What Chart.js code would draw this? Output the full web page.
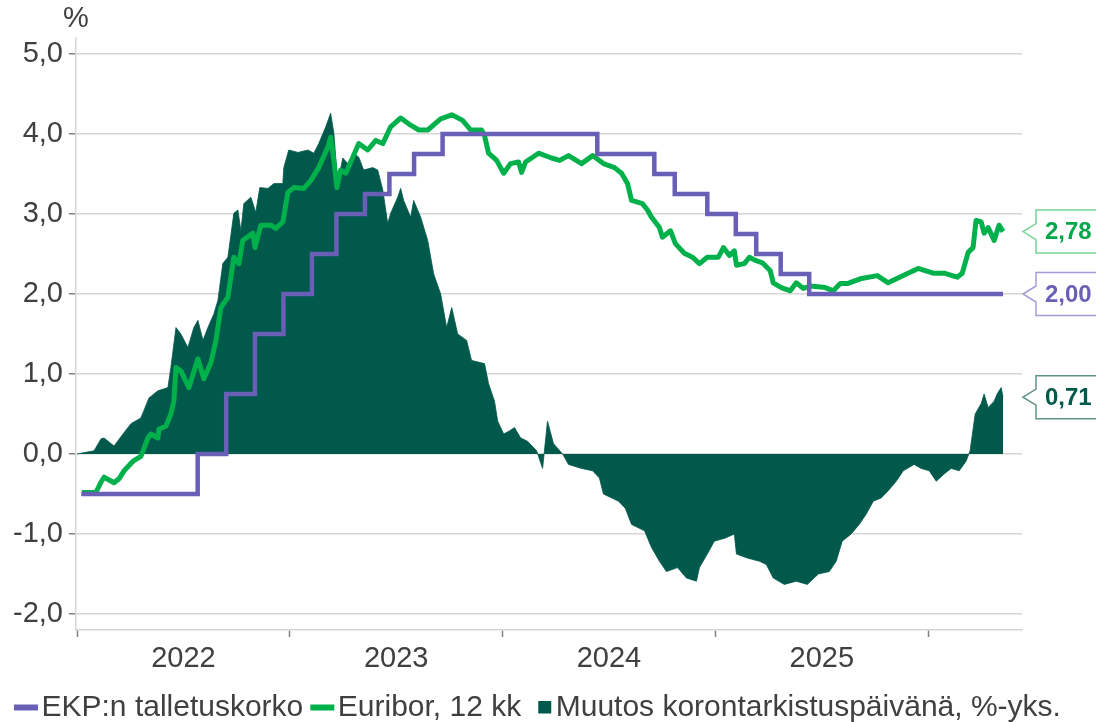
<!DOCTYPE html>
<html><head><meta charset="utf-8">
<script src="https://cdn.jsdelivr.net/npm/chart.js@4.4.1/dist/chart.umd.min.js"></script>
<style>html,body{margin:0;padding:0;background:#fff;}canvas{display:block;}</style>
</head><body>
<canvas id="c" width="1096" height="722"></canvas>
<script>
// ---- data (x = decimal year) ----
const seriesNames = ['EKP:n talletuskorko', 'Euribor, 12 kk', 'Muutos korontarkistuspäivänä, %-yks.'];
const yearLabels = ['2022', '2023', '2024', '2025'];
const yTicks = [-2, -1, 0, 1, 2, 3, 4, 5];
const unitLabel = '%';

const ecbDates = [2022.02, 2022.567, 2022.701, 2022.836, 2022.970, 2023.104, 2023.219, 2023.353, 2023.468, 2023.584, 2023.718, 2024.445, 2024.713, 2024.809, 2024.962, 2025.096, 2025.192, 2025.307, 2025.441, 2026.352];
const ecbValues = [-0.5, 0, 0.75, 1.5, 2.0, 2.5, 3.0, 3.25, 3.5, 3.75, 4.0, 3.75, 3.5, 3.25, 3.0, 2.75, 2.5, 2.25, 2.0, 2.0];

const euriborDates = [2022.023, 2022.089, 2022.113, 2022.127, 2022.174, 2022.197, 2022.221, 2022.263, 2022.300, 2022.333, 2022.347, 2022.380, 2022.385, 2022.418, 2022.441, 2022.455, 2022.465, 2022.488, 2022.526, 2022.568, 2022.596, 2022.629, 2022.653, 2022.676, 2022.709, 2022.737, 2022.761, 2022.779, 2022.826, 2022.836, 2022.864, 2022.911, 2022.934, 2022.967, 2022.991, 2023.019, 2023.066, 2023.099, 2023.136, 2023.178, 2023.192, 2023.207, 2023.221, 2023.239, 2023.263, 2023.296, 2023.324, 2023.366, 2023.404, 2023.437, 2023.474, 2023.521, 2023.568, 2023.606, 2023.648, 2023.709, 2023.761, 2023.812, 2023.850, 2023.901, 2023.915, 2023.934, 2023.972, 2024.005, 2024.038, 2024.075, 2024.089, 2024.108, 2024.169, 2024.230, 2024.268, 2024.310, 2024.371, 2024.423, 2024.474, 2024.526, 2024.559, 2024.587, 2024.606, 2024.657, 2024.681, 2024.700, 2024.737, 2024.751, 2024.789, 2024.812, 2024.854, 2024.892, 2024.925, 2024.962, 2025.014, 2025.038, 2025.066, 2025.089, 2025.099, 2025.136, 2025.160, 2025.188, 2025.221, 2025.258, 2025.272, 2025.310, 2025.352, 2025.380, 2025.413, 2025.446, 2025.516, 2025.554, 2025.587, 2025.620, 2025.681, 2025.761, 2025.812, 2025.883, 2025.953, 2026.023, 2026.075, 2026.136, 2026.160, 2026.188, 2026.211, 2026.225, 2026.249, 2026.263, 2026.282, 2026.310, 2026.333, 2026.352];
const euriborValues = [-0.48, -0.48, -0.35, -0.29, -0.36, -0.31, -0.21, -0.09, -0.03, 0.20, 0.25, 0.20, 0.31, 0.35, 0.50, 0.66, 1.08, 1.04, 0.83, 1.19, 0.94, 1.14, 1.42, 1.83, 1.96, 2.46, 2.38, 2.67, 2.76, 2.58, 2.86, 2.86, 2.82, 2.90, 3.27, 3.33, 3.32, 3.42, 3.58, 3.83, 3.96, 3.67, 3.33, 3.55, 3.51, 3.71, 3.88, 3.80, 3.92, 3.88, 4.09, 4.20, 4.11, 4.05, 4.05, 4.19, 4.24, 4.17, 4.05, 4.05, 3.98, 3.76, 3.67, 3.51, 3.63, 3.65, 3.52, 3.65, 3.76, 3.70, 3.67, 3.73, 3.63, 3.73, 3.63, 3.58, 3.51, 3.38, 3.17, 3.13, 3.05, 2.96, 2.83, 2.71, 2.79, 2.63, 2.51, 2.46, 2.38, 2.46, 2.46, 2.58, 2.48, 2.54, 2.36, 2.38, 2.46, 2.42, 2.39, 2.29, 2.14, 2.08, 2.04, 2.14, 2.07, 2.10, 2.08, 2.04, 2.13, 2.13, 2.19, 2.23, 2.14, 2.23, 2.32, 2.26, 2.26, 2.21, 2.26, 2.52, 2.58, 2.92, 2.90, 2.76, 2.83, 2.67, 2.86, 2.78];

const changeDates = [2022.000, 2022.080, 2022.113, 2022.127, 2022.174, 2022.216, 2022.254, 2022.300, 2022.338, 2022.380, 2022.427, 2022.441, 2022.465, 2022.488, 2022.521, 2022.549, 2022.568, 2022.592, 2022.615, 2022.643, 2022.662, 2022.685, 2022.709, 2022.737, 2022.756, 2022.770, 2022.784, 2022.817, 2022.840, 2022.859, 2022.897, 2022.925, 2022.967, 2022.972, 2022.995, 2023.038, 2023.085, 2023.113, 2023.136, 2023.169, 2023.192, 2023.207, 2023.225, 2023.249, 2023.272, 2023.300, 2023.324, 2023.347, 2023.390, 2023.413, 2023.437, 2023.460, 2023.474, 2023.507, 2023.521, 2023.535, 2023.568, 2023.582, 2023.615, 2023.648, 2023.676, 2023.709, 2023.737, 2023.761, 2023.789, 2023.831, 2023.854, 2023.915, 2023.934, 2023.962, 2023.977, 2024.005, 2024.033, 2024.056, 2024.085, 2024.117, 2024.160, 2024.188, 2024.211, 2024.239, 2024.282, 2024.310, 2024.371, 2024.423, 2024.455, 2024.474, 2024.545, 2024.577, 2024.606, 2024.667, 2024.700, 2024.737, 2024.770, 2024.822, 2024.864, 2024.911, 2024.925, 2024.962, 2024.995, 2025.047, 2025.089, 2025.099, 2025.150, 2025.207, 2025.239, 2025.272, 2025.324, 2025.380, 2025.432, 2025.484, 2025.535, 2025.568, 2025.596, 2025.638, 2025.676, 2025.709, 2025.742, 2025.779, 2025.812, 2025.850, 2025.883, 2025.934, 2025.967, 2026.005, 2026.038, 2026.075, 2026.108, 2026.146, 2026.178, 2026.197, 2026.221, 2026.249, 2026.263, 2026.282, 2026.310, 2026.324, 2026.343, 2026.352];
const changeValues = [0.00, 0.04, 0.19, 0.20, 0.10, 0.25, 0.38, 0.45, 0.70, 0.79, 0.83, 1.08, 1.58, 1.50, 1.33, 1.58, 1.67, 1.42, 1.58, 1.75, 1.92, 2.38, 2.46, 3.01, 3.05, 2.79, 3.13, 3.21, 3.02, 3.33, 3.32, 3.38, 3.38, 3.58, 3.80, 3.77, 3.80, 3.76, 3.88, 4.09, 4.26, 4.01, 3.38, 3.70, 3.63, 3.76, 3.71, 3.55, 3.58, 3.55, 3.30, 2.88, 3.01, 3.21, 3.32, 3.17, 2.96, 3.17, 2.96, 2.67, 2.25, 2.00, 1.58, 1.83, 1.50, 1.42, 1.17, 1.13, 0.88, 0.66, 0.41, 0.25, 0.29, 0.33, 0.20, 0.16, 0.04, -0.18, 0.41, 0.13, 0.00, -0.13, -0.18, -0.21, -0.30, -0.50, -0.59, -0.68, -0.88, -0.96, -1.17, -1.34, -1.47, -1.42, -1.55, -1.59, -1.42, -1.25, -1.09, -1.05, -1.00, -1.25, -1.30, -1.34, -1.38, -1.55, -1.63, -1.59, -1.63, -1.50, -1.47, -1.34, -1.09, -1.00, -0.88, -0.75, -0.59, -0.55, -0.46, -0.34, -0.21, -0.13, -0.18, -0.21, -0.34, -0.25, -0.18, -0.21, -0.09, 0.04, 0.50, 0.63, 0.75, 0.58, 0.66, 0.75, 0.83, 0.71];

// ---- styles ----
const PURPLE = '#6a5fb6', GREEN = '#00b14b', DGREEN = '#00594b';
const TXT = '#404040', GRID = '#d6d6d6', TICK = '#7f7f7f';
const FONT = "'Liberation Sans', Arial, Helvetica, sans-serif";
const fmt = v => v.toFixed(2).replace('.', ',');

function swatch(color, kind) {
  const c = document.createElement('canvas');
  c.width = 28; c.height = 14;
  const g = c.getContext('2d');
  g.fillStyle = color;
  if (kind === 'line') g.fillRect(2, 4, 24, 6);
  else g.fillRect(12, 0, 13, 13);
  return c;
}
const swatches = [swatch(PURPLE, 'line'), swatch(GREEN, 'line'), swatch(DGREEN, 'rect')];

const pts = (xs, ys) => xs.map((x, i) => ({x, y: ys[i]}));

const callouts = [
  {value: euriborValues[euriborValues.length - 1], color: '#00a84a', border: '#74d498'},
  {value: ecbValues[ecbValues.length - 1], color: PURPLE, border: '#a49dd8'},
  {value: changeValues[changeValues.length - 1], color: DGREEN, border: '#5f9389'}
];

const extras = {
  id: 'extras',
  afterDatasetsDraw(chart) {
    const {ctx, chartArea, scales} = chart;
    const y = scales.y;
    ctx.save();
    ctx.font = '29px ' + FONT;
    ctx.fillStyle = TXT; ctx.textAlign = 'center'; ctx.textBaseline = 'middle';
    ctx.fillText(unitLabel, chartArea.left, 19);
    callouts.forEach(c => {
      const yy = y.getPixelForValue(c.value);
      const tip = chartArea.right + 1, bl = tip + 13, br = chart.width + 5, hh = 21.5, ph = 8;
      ctx.beginPath();
      ctx.moveTo(tip, yy); ctx.lineTo(bl, yy - ph); ctx.lineTo(bl, yy - hh);
      ctx.lineTo(br, yy - hh); ctx.lineTo(br, yy + hh); ctx.lineTo(bl, yy + hh);
      ctx.lineTo(bl, yy + ph); ctx.closePath();
      ctx.fillStyle = '#fff'; ctx.fill();
      ctx.lineWidth = 1.5; ctx.strokeStyle = c.border; ctx.stroke();
      ctx.font = 'bold 24px ' + FONT;
      ctx.fillStyle = c.color; ctx.textAlign = 'left'; ctx.textBaseline = 'middle';
      ctx.fillText(fmt(c.value), bl + 9, yy + 1);
    });
    ctx.restore();
  }
};

const xMin = 2021.995, xMax = 2026.441;

new Chart(document.getElementById('c'), {
  type: 'line',
  data: {
    datasets: [
      {label: seriesNames[0], data: pts(ecbDates, ecbValues), borderColor: PURPLE, borderWidth: 4.5,
       stepped: 'before', pointRadius: 0, fill: false, borderJoinStyle: 'miter', borderCapStyle: 'butt'},
      {label: seriesNames[1], data: pts(euriborDates, euriborValues), borderColor: GREEN, borderWidth: 5,
       pointRadius: 0, fill: false, tension: 0, borderJoinStyle: 'round'},
      {label: seriesNames[2], data: pts(changeDates, changeValues), borderColor: DGREEN, borderWidth: 0.8,
       backgroundColor: DGREEN, pointRadius: 0, tension: 0,
       fill: {target: 'origin', above: DGREEN, below: DGREEN}}
    ]
  },
  options: {
    responsive: false, animation: false, devicePixelRatio: 1,
    layout: {padding: {top: 38, right: 0, left: 7, bottom: -10.5}},
    plugins: {
      tooltip: {enabled: false},
      legend: {
        position: 'bottom', align: 'start',
        labels: {
          usePointStyle: true, pointStyleWidth: 1, boxHeight: 30, padding: 18.5,
          color: TXT, font: {family: FONT, size: 30},
          generateLabels: (chart) => chart.data.datasets.map((ds, i) => ({
            text: ds.label, pointStyle: swatches[i], fillStyle: ds.borderColor,
            strokeStyle: ds.borderColor, lineWidth: 0, hidden: false, datasetIndex: i, fontColor: TXT
          }))
        }
      }
    },
    scales: {
      x: {
        type: 'linear', min: xMin, max: xMax,
        afterBuildTicks: (s) => {
          const t = [];
          yearLabels.forEach(l => { t.push({value: Number(l)}); t.push({value: Number(l) + 0.5}); });
          t.push({value: Number(yearLabels[yearLabels.length - 1]) + 1});
          s.ticks = t;
        },
        afterFit: (s) => { s.height = 44; },
        ticks: {
          autoSkip: false, maxRotation: 0, padding: 4.5, color: TXT, font: {family: FONT, size: 29},
          callback: (v) => { const l = yearLabels.find(l => Number(l) + 0.5 === v); return l || ''; }
        },
        grid: {
          drawOnChartArea: false, drawTicks: true, tickLength: 7, tickWidth: 1.5,
          tickColor: (c) => (c.tick && Number.isInteger(c.tick.value)) ? TICK : 'rgba(0,0,0,0)'
        },
        border: {display: true, color: GRID, width: 1.5}
      },
      y: {
        min: -2.2, max: 5.2,
        afterBuildTicks: (s) => { s.ticks = yTicks.map(v => ({value: v})); },
        ticks: {padding: 6, color: TXT, font: {family: FONT, size: 29},
          callback: (v) => v.toFixed(1).replace('.', ',')},
        grid: {color: GRID, lineWidth: 1.5, tickLength: 7, tickWidth: 1.5, tickColor: TICK},
        border: {display: true, color: GRID, width: 1.5}
      },
      yRight: {
        position: 'right', min: -2.2, max: 5.2,
        ticks: {display: false},
        grid: {display: false, drawOnChartArea: false},
        border: {display: false},
        afterFit: (s) => { s.width = 74; }
      }
    }
  },
  plugins: [extras]
});
</script>
</body></html>
